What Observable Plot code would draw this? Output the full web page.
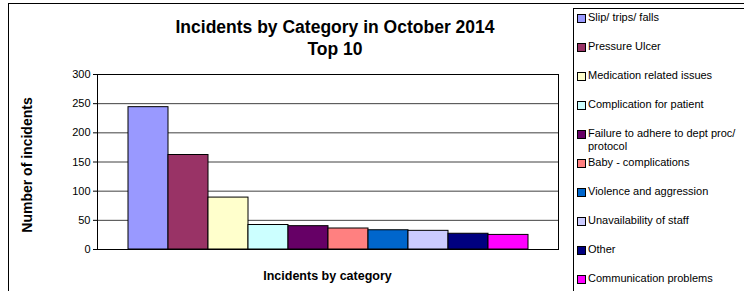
<!DOCTYPE html>
<html>
<head>
<meta charset="utf-8">
<script src="https://cdn.jsdelivr.net/npm/d3@7"></script>
<script src="https://cdn.jsdelivr.net/npm/@observablehq/plot@0.6"></script>
<style>
  body { margin: 0; background: #fff; font-family: "Liberation Sans", Arial, sans-serif; }
  #wrap { position: relative; width: 744px; height: 291px; overflow: hidden; }
  #chartborder { position: absolute; left: 8px; top: 3px; width: 800px; height: 400px; border: 1px solid #000; box-sizing: border-box; }
  #title { position: absolute; left: 90px; width: 490px; top: 16px; text-align: center; font-weight: bold; font-size: 17.5px; line-height: 22px; color: #000; }
  #xlabel { position: absolute; left: 97px; width: 461px; top: 269px; text-align: center; font-weight: bold; font-size: 12.5px; color: #000; }
  #ylabel { position: absolute; left: 27px; top: 165px; transform: translate(-50%, -50%) rotate(-90deg); white-space: nowrap; font-weight: bold; font-size: 14px; color: #000; }
  #legend { position: absolute; left: 573px; top: 8px; width: 300px; height: 400px; border: 1px solid #000; box-sizing: border-box; background: #fff; padding-top: 2px; }
  .item { display: flex; align-items: flex-start; font-size: 11px; line-height: 13px; height: 29px; color: #000; overflow: visible; }
  .sw { width: 7px; height: 7px; border: 1px solid #000; margin: 3px 2px 0 3px; flex: none; }
  .lt { width: 158px; }
  #plot { position: absolute; left: 0; top: 0; }
</style>
</head>
<body>
<div id="wrap">
  <div id="chartborder"></div>
  <div id="plot"></div>
  <div id="title">Incidents by Category in October 2014<br>Top 10</div>
  <div id="xlabel">Incidents by category</div>
  <div id="ylabel">Number of incidents</div>
  <div id="legend"></div>
</div>
<script>
const categories = [
  "Slip/ trips/ falls",
  "Pressure Ulcer",
  "Medication related issues",
  "Complication for patient",
  "Failure to adhere to dept proc/ protocol",
  "Baby - complications",
  "Violence and aggression",
  "Unavailability of staff",
  "Other",
  "Communication problems"
];
const values = [244, 162, 89, 42, 40, 36, 33, 32, 27, 25];
const colors = ["#9999FF", "#993366", "#FFFFCC", "#CCFFFF", "#660066", "#FF8080", "#0066CC", "#CCCCFF", "#000080", "#FF00FF"];
const yTicks = [0, 50, 100, 150, 200, 250, 300];

const data = categories.map((c, i) => ({category: c, value: values[i]}));

const plot = Plot.plot({
  width: 744,
  height: 291,
  marginLeft: 97,
  marginRight: 186,
  marginTop: 74,
  marginBottom: 42,
  style: {fontFamily: "Liberation Sans, Arial, sans-serif", fontSize: "11px", color: "#000", background: "transparent", overflow: "visible"},
  x: {type: "band", domain: categories, paddingInner: 0, paddingOuter: 0.75, axis: null},
  y: {domain: [0, 300], ticks: yTicks, label: null},
  color: {domain: categories, range: colors},
  marks: [
    Plot.gridY(yTicks, {stroke: "#000", strokeOpacity: 0.75, strokeWidth: 1}),
    Plot.barY(data, {x: "category", y: "value", fill: "category", stroke: "#000", strokeWidth: 1}),
    Plot.axisY(yTicks, {tickSize: 4, tickPadding: 3, stroke: "#000", fill: "#000", fontSize: 11, label: null}),
    Plot.frame({stroke: "#000", strokeWidth: 1})
  ]
});
document.getElementById("plot").appendChild(plot);

const legend = document.getElementById("legend");
categories.forEach((c, i) => {
  const item = document.createElement("div");
  item.className = "item";
  const sw = document.createElement("div");
  sw.className = "sw";
  sw.style.background = colors[i];
  const lt = document.createElement("div");
  lt.className = "lt";
  lt.textContent = c;
  item.appendChild(sw);
  item.appendChild(lt);
  legend.appendChild(item);
});
</script>
</body>
</html>
